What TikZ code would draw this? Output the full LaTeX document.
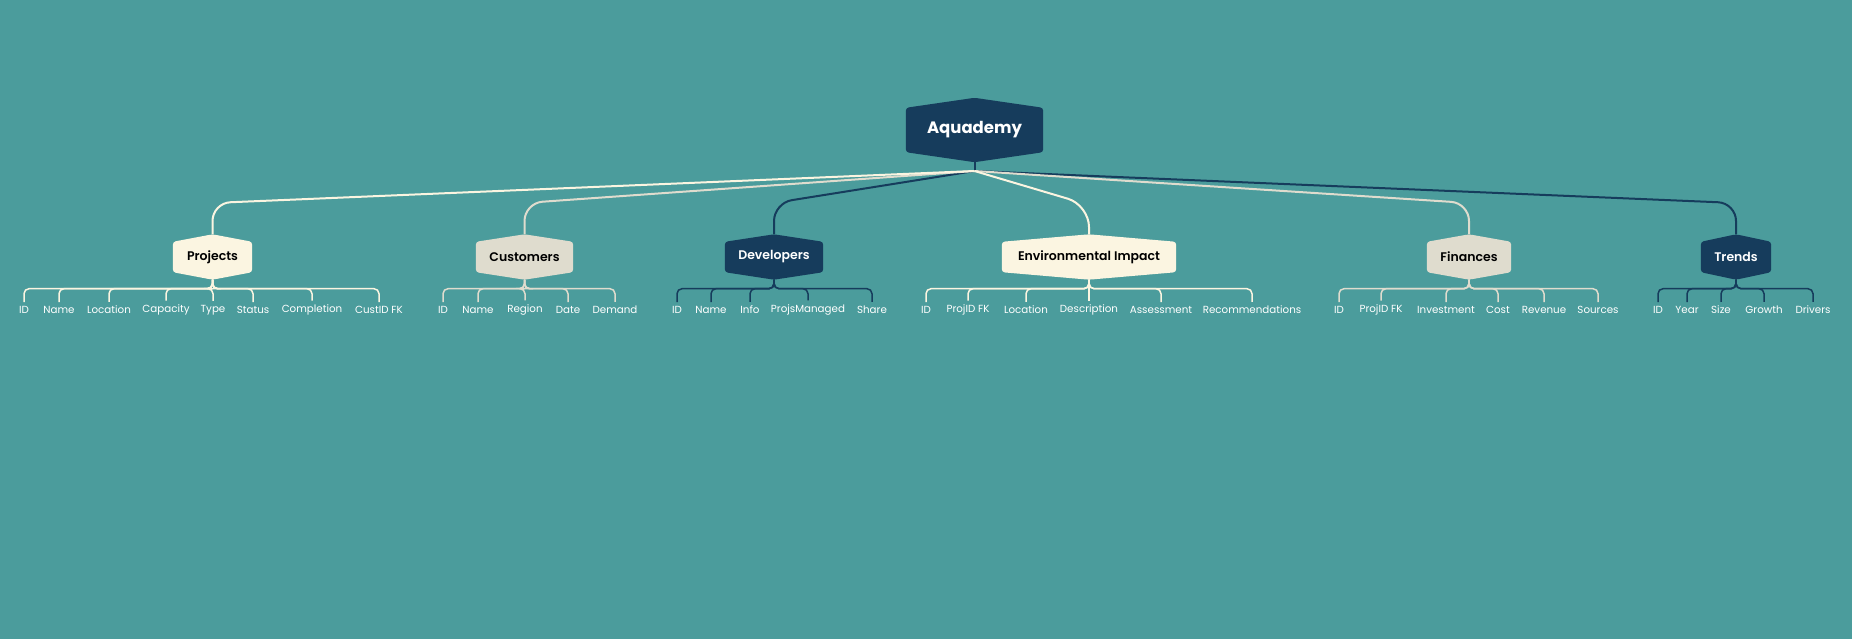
\documentclass[tikz,border=0pt]{standalone}
\usepackage{fontspec}
\setmainfont{Poppins}
\newfontfamily\semibold{Poppins SemiBold}
\usetikzlibrary{backgrounds}
\definecolor{bgteal}{HTML}{4B9C9C}
\definecolor{navy}{HTML}{163C5C}
\definecolor{cream}{HTML}{FBF5E1}
\definecolor{sand}{HTML}{DFDCCE}
\newcommand{\hexfill}[3]{%
\begin{pgfonlayer}{background}
\fill[#2,rounded corners=3pt] (#1.north west) -- ([yshift=#3]#1.north) -- (#1.north east) -- (#1.south east) -- ([yshift=-#3]#1.south) -- (#1.south west) -- cycle;
\end{pgfonlayer}}
\begin{document}
\begin{tikzpicture}[x=1pt,y=1pt,
  rootbox/.style={inner sep=0pt,minimum width=137pt,minimum height=44pt,font=\fontsize{16.5}{20}\selectfont\bfseries,text=white},
  tablebox/.style={inner sep=0pt,minimum height=30pt,font=\fontsize{12.5}{15}\semibold},
  leaf/.style={inner sep=1pt,text=white,font=\fontsize{10.3}{12}\selectfont},
  link/.style={line width=2pt,rounded corners=18pt},
  twig/.style={line width=1.5pt,rounded corners=5pt}]

\begin{pgfonlayer}{background}
\fill[bgteal] (0,0) rectangle (1852,-639);
\end{pgfonlayer}
\useasboundingbox (0,0) rectangle (1852,-639);

\node[rootbox] (root) at (974.5,-130) {Aquademy};
\hexfill{root}{navy}{10pt}
\coordinate (root-b) at ([yshift=-10pt]root.south);
\coordinate (hub) at (974.5,-171);
\coordinate (bend) at (0,-203);
\draw[line width=2pt,navy] (root-b) -- (hub);

\node[tablebox,minimum width=79pt] (proj) at (212.5,-257) {Projects};
\node[tablebox,minimum width=97pt] (cust) at (524.5,-257) {Customers};
\node[tablebox,minimum width=98pt,text=white] (dev) at (774,-257) {Developers};
\node[tablebox,minimum width=174pt] (env) at (1089,-257) {Environmental Impact};
\node[tablebox,minimum width=84pt] (fin) at (1469,-257) {Finances};
\node[tablebox,minimum width=70pt,text=white] (trend) at (1736,-257) {Trends};
\hexfill{proj}{cream}{7.5pt}
\hexfill{cust}{sand}{7.5pt}
\hexfill{dev}{navy}{7.5pt}
\hexfill{env}{cream}{7.5pt}
\hexfill{fin}{sand}{7.5pt}
\hexfill{trend}{navy}{7.5pt}

\draw[link,navy] (hub) -- (dev |- bend) -- ([yshift=7.5pt]dev.north);
\draw[link,navy] (hub) -- (trend |- bend) -- ([yshift=7.5pt]trend.north);
\draw[link,sand] (hub) -- (cust |- bend) -- ([yshift=7.5pt]cust.north);
\draw[link,sand] (hub) -- (fin |- bend) -- ([yshift=7.5pt]fin.north);
\draw[link,cream] (hub) -- (proj |- bend) -- ([yshift=7.5pt]proj.north);
\draw[link,cream,rounded corners=22pt] (hub) -- ([yshift=-2pt]env |- bend) -- ([yshift=7.5pt]env.north);

\foreach \t/\x [count=\i] in {ID/24,Name/59,Location/109,Capacity/166,Type/213,Status/253,Completion/312,CustID FK/379}{
  \node[leaf] (proj\i) at (\x,-310) {\t};
  \draw[twig,cream] ([yshift=-7.5pt]proj.south) -- ++(0,-9) -| ([yshift=3pt]proj\i.north);
}
\foreach \t/\x [count=\i] in {ID/443,Name/478,Region/525,Date/568,Demand/615}{
  \node[leaf] (cust\i) at (\x,-310) {\t};
  \draw[twig,sand] ([yshift=-7.5pt]cust.south) -- ++(0,-9) -| ([yshift=3pt]cust\i.north);
}
\foreach \t/\x [count=\i] in {ID/677,Name/711,Info/750,ProjsManaged/808,Share/872}{
  \node[leaf] (dev\i) at (\x,-310) {\t};
  \draw[twig,navy] ([yshift=-7.5pt]dev.south) -- ++(0,-9) -| ([yshift=3pt]dev\i.north);
}
\foreach \t/\x [count=\i] in {ID/926,ProjID FK/968,Location/1026,Description/1089,Assessment/1161,Recommendations/1252}{
  \node[leaf] (env\i) at (\x,-310) {\t};
  \draw[twig,cream] ([yshift=-7.5pt]env.south) -- ++(0,-9) -| ([yshift=3pt]env\i.north);
}
\foreach \t/\x [count=\i] in {ID/1339,ProjID FK/1381,Investment/1446,Cost/1498,Revenue/1544,Sources/1598}{
  \node[leaf] (fin\i) at (\x,-310) {\t};
  \draw[twig,sand] ([yshift=-7.5pt]fin.south) -- ++(0,-9) -| ([yshift=3pt]fin\i.north);
}
\foreach \t/\x [count=\i] in {ID/1658,Year/1687,Size/1721,Growth/1764,Drivers/1813}{
  \node[leaf] (trend\i) at (\x,-310) {\t};
  \draw[twig,navy] ([yshift=-7.5pt]trend.south) -- ++(0,-9) -| ([yshift=3pt]trend\i.north);
}
\end{tikzpicture}
\end{document}
